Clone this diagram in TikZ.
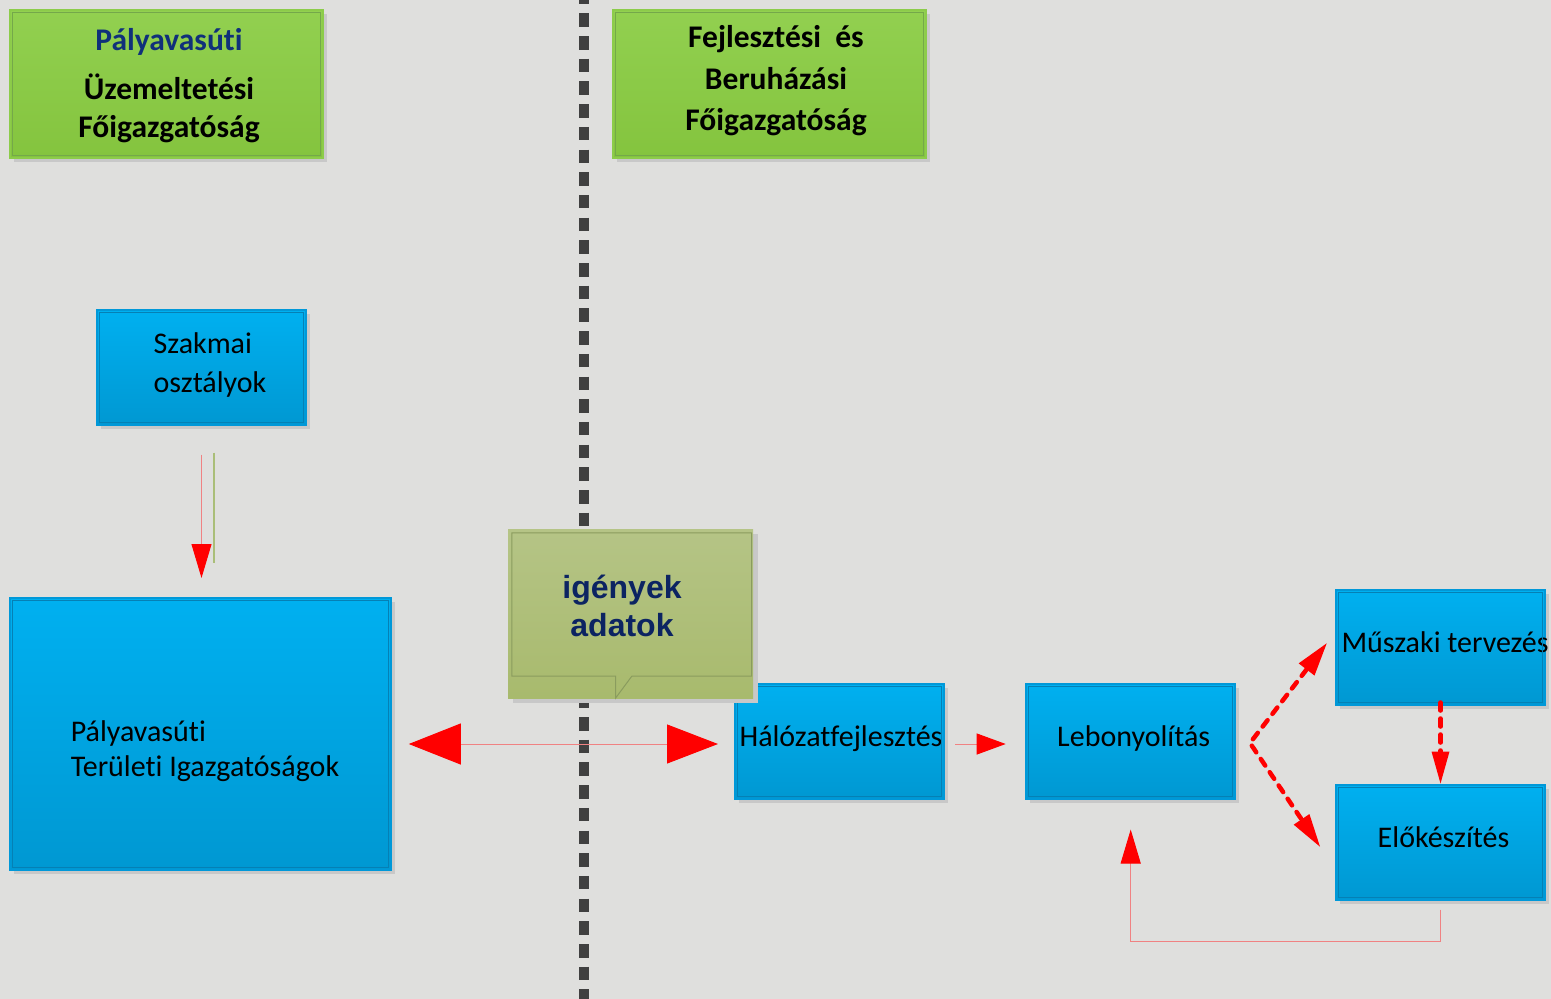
\documentclass[tikz,border=0pt]{standalone}
\usepackage{fontspec}
\setmainfont{Carlito}[Ligatures=NoCommon]
\newfontfamily\arialfont{Liberation Sans}
\usetikzlibrary{arrows.meta,shadows,calc}
\definecolor{bgc}{HTML}{DFDFDD}
\definecolor{shadowc}{HTML}{C8C8C8}
\definecolor{bluetop}{HTML}{00B0F0}
\definecolor{bluebot}{HTML}{0098D2}
\definecolor{blueedge}{HTML}{0098D8}
\definecolor{blueinner}{HTML}{0580B5}
\definecolor{greentop}{HTML}{92D050}
\definecolor{greenbot}{HTML}{84C43E}
\definecolor{greenedge}{HTML}{8CCC4A}
\definecolor{greeninner}{HTML}{74A84A}
\definecolor{olivetop}{HTML}{B5C486}
\definecolor{olivebot}{HTML}{A8BA6D}
\definecolor{oliveinner}{HTML}{8A9C5E}
\definecolor{oliveline}{HTML}{AABE78}
\definecolor{navy}{HTML}{10307A}
\definecolor{navyb}{HTML}{0C2462}
\definecolor{pinkred}{HTML}{F08282}
\definecolor{darkdash}{HTML}{404040}
\newcommand\mybodyfont{\fontsize{30}{36}\selectfont}
\newcommand\myheadfont{\bfseries\fontsize{31.5}{42}\selectfont}
\begin{document}
\begin{tikzpicture}[x=1pt,y=-1pt,
  shadowed/.style={drop shadow={shadow xshift=4pt,shadow yshift=-4pt,fill=shadowc,opacity=1}},
  bluebox/.style={shadowed, draw=blueedge, line width=2pt, top color=bluetop, bottom color=bluebot,
    minimum width=209pt, minimum height=115pt, inner sep=0pt, font=\mybodyfont, text=black,
    text height=20pt, text depth=9pt},
  greenbox/.style={shadowed, draw=greenedge, line width=2pt, top color=greentop, bottom color=greenbot,
    minimum width=313pt, minimum height=148pt, inner sep=0pt},
  calloutbox/.style={drop shadow={shadow xshift=5pt,shadow yshift=-5pt,fill=shadowc,opacity=1},
    top color=olivetop, bottom color=olivebot, minimum width=245pt, minimum height=169pt, inner sep=0pt},
  headtext/.style={inner sep=0pt, font=\myheadfont, align=center, text=black},
  bodytext/.style={inner sep=0pt, font=\mybodyfont, align=left, text=black},
  thinarrow/.style={pinkred, line width=1pt},
  reddash/.style={red, line width=4.5pt, dash pattern=on 8pt off 8pt, line cap=round},
  separator/.style={darkdash, line width=9.5pt, dash pattern=on 13.5pt off 9.2pt}
]
\fill[bgc] (0,0) rectangle (1551,999);
\useasboundingbox (0,0) rectangle (1551,999);

% separator line
\coordinate (dtop) at (584,-9.4);
\coordinate (dbot) at (584,1010);
\draw[separator] (dtop) -- (dbot);

% header boxes
\node[greenbox] (gA) at (166.5,84) {};
\node[greenbox] (gB) at (769,84) {};
\node[headtext] (gAt) at (169,86) {\textcolor{navy}{Pályavasúti}\\[7pt]Üzemeltetési\\[-4pt]Főigazgatóság};
\node[headtext] (gBt) at (776,81) {Fejlesztési\ \ és\\Beruházási\\[-1pt]Főigazgatóság};

% blue boxes
\node[bluebox] (szak) at (201.5,367) {};
\node[bodytext] (szakt) at (210,365) {Szakmai\\[3pt]osztályok};
\node[bluebox, minimum width=381pt, minimum height=272pt] (ter) at (200.3,734) {};
\node[bodytext] (tert) at (205,751) {Pályavasúti\\[-1pt]Területi Igazgatóságok};
\node[bluebox] (halo) at (839.5,741) {\makebox[0pt]{\hspace*{3pt}Hálózatfejlesztés}};
\node[bluebox] (lebo) at (1130.7,741) {\hspace*{6pt}Lebonyolítás};
\node[bluebox] (musz) at (1440.5,647) {\makebox[0pt]{\hspace*{9pt}Műszaki tervezés}};
\node[bluebox] (elok) at (1440.5,842) {\hspace*{6pt}Előkészítés};

% inner frames
\foreach \n/\c in {gA/greeninner,gB/greeninner,szak/blueinner,ter/blueinner,halo/blueinner,lebo/blueinner,musz/blueinner,elok/blueinner}
  \draw[\c, line width=1pt] ([shift={(3.5,3.5)}]\n.north west) rectangle ([shift={(-3.5,-3.5)}]\n.south east);

% callout
\node[calloutbox] (call) at (630.5,613.5) {};
\draw[oliveinner, line width=1pt] ([shift={(4,4)}]call.north west) -- ([shift={(-1.5,4)}]call.north east)
  -- ([shift={(-1.5,-22)}]call.south east) -- ([shift={(124,-22)}]call.south west)
  -- ([shift={(107.7,0)}]call.south west) -- ([shift={(107.7,-22)}]call.south west)
  -- ([shift={(4,-22)}]call.south west) -- cycle;
\node[inner sep=0pt, font=\arialfont\bfseries\fontsize{32}{38}\selectfont, text=navyb, align=center] (callt) at (622,606) {igények\\adatok};

% connectors
\coordinate (ay) at (0,744);
\coordinate (fb) at (0,941);
\coordinate (v) at (1250,743);

\draw[thinarrow, {Triangle[length=52pt,width=41pt,red]}-{Triangle[length=51pt,width=39pt,red]},
  shorten <=17pt, shorten >=16pt] (ter.east |- ay) -- (halo.west |- ay);
\draw[thinarrow, -{Triangle[length=29pt,width=21pt,red]}, shorten <=10pt, shorten >=19.5pt]
  (halo.east |- ay) -- (lebo.west |- ay);
\draw[thinarrow, -{Triangle[length=34pt,width=20pt,red]}, shorten <=29pt, shorten >=19pt]
  (szak.south) -- (szak.south |- ter.north);
\draw[oliveline, line width=2pt, shorten <=27pt, shorten >=34pt]
  ([xshift=12pt]szak.south) -- ([xshift=12pt]szak.south |- ter.north);

\draw[reddash, {Triangle[length=33pt,width=20pt,line width=0pt]}-{Triangle[length=33pt,width=19pt,line width=0pt]}]
  ([xshift=-8.3pt,yshift=3.7pt]musz.west) -- (v) -- ([xshift=-15pt,yshift=-4.7pt]elok.west);
\draw[reddash, -{Triangle[length=32pt,width=18pt,line width=0pt]}]
  ([yshift=3pt]musz.south) -- (elok.north);
\draw[thinarrow, -{Triangle[length=34pt,width=20pt,red]}, shorten <=9pt, shorten >=30pt]
  (elok.south) -- (elok.south |- fb) -| (lebo.south);
\end{tikzpicture}
\end{document}
